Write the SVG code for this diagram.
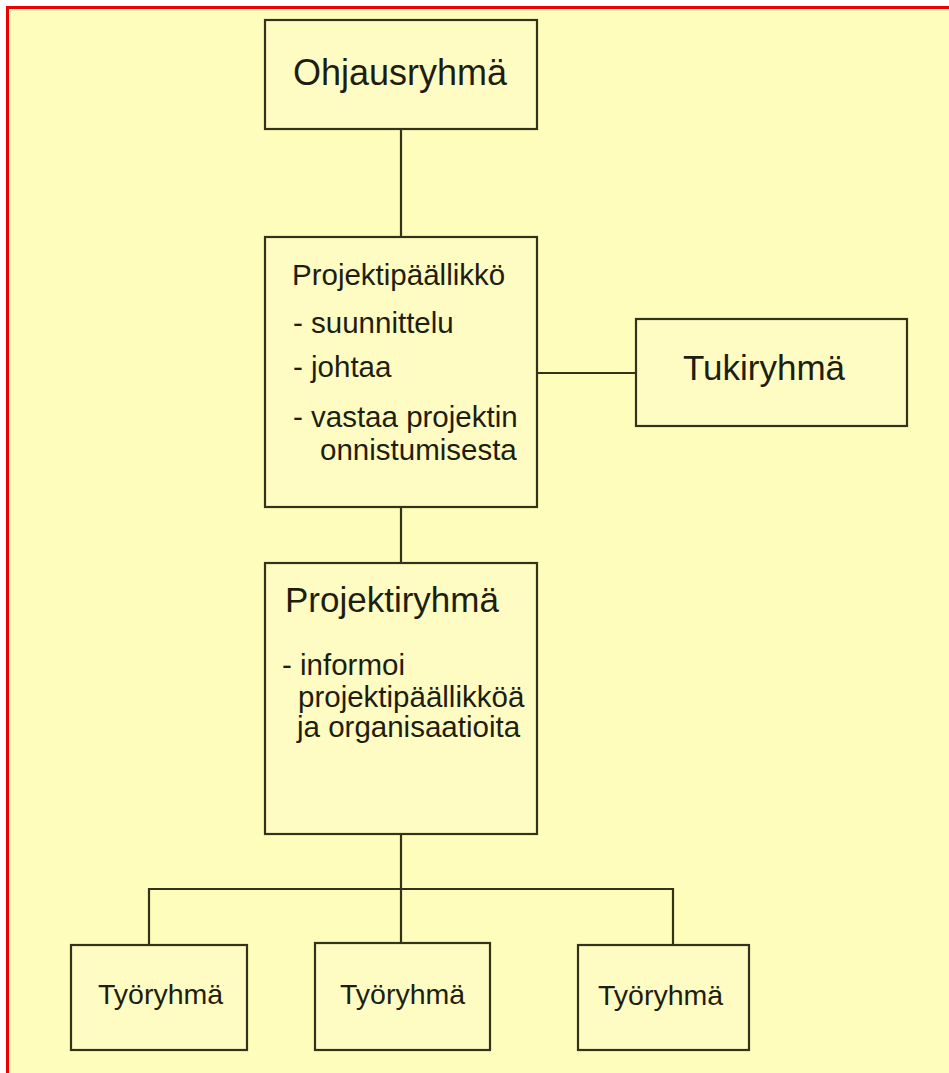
<svg xmlns="http://www.w3.org/2000/svg" width="949" height="1073" viewBox="0 0 949 1073">
<style>
.box{fill:#FEFCC2;stroke:#33331a;stroke-width:2.2}
.ln{fill:none;stroke:#33331a;stroke-width:2.2}
text{font-family:"Liberation Sans",Arial,sans-serif;fill:#1e1e10}
.big{font-size:36px}
.mid{font-size:35px}
.sm{font-size:29.5px}
.ty{font-size:28.5px}
</style>
<rect x="0" y="0" width="949" height="1073" fill="#FFFFFF"/>
<rect x="8" y="8" width="941" height="1065" fill="#FFFDBB"/>
<g id="border">
<rect x="6" y="6" width="943" height="3" fill="#EE0000"/>
<rect x="6" y="6" width="3" height="1067" fill="#EE0000"/>
</g>
<g id="connectors">
<line class="ln" x1="401" y1="129" x2="401" y2="237"/>
<line class="ln" x1="401" y1="507" x2="401" y2="563"/>
<line class="ln" x1="537" y1="373" x2="636" y2="373"/>
<line class="ln" x1="401" y1="834" x2="401" y2="943"/>
<polyline class="ln" points="149,945 149,889 673,889 673,945"/>
</g>
<g id="ohjausryhma">
<rect class="box" x="265" y="20" width="272" height="109"/>
<text class="big" x="293" y="85">Ohjausryhmä</text>
</g>
<g id="projektipaallikko">
<rect class="box" x="265" y="237" width="272" height="270"/>
<text class="sm" x="292" y="285">Projektipäällikkö</text>
<text class="sm" x="293" y="333">- suunnittelu</text>
<text class="sm" x="293" y="377">- johtaa</text>
<text class="sm" x="293" y="427">- vastaa projektin</text>
<text class="sm" x="320" y="460">onnistumisesta</text>
</g>
<g id="tukiryhma">
<rect class="box" x="636" y="319" width="271" height="107"/>
<text class="mid" x="683" y="380">Tukiryhmä</text>
</g>
<g id="projektiryhma">
<rect class="box" x="265" y="563" width="272" height="271"/>
<text class="mid" x="285" y="612">Projektiryhmä</text>
<text class="sm" x="282" y="675">- informoi</text>
<text class="sm" x="298" y="707">projektipäällikköä</text>
<text class="sm" x="297" y="737">ja organisaatioita</text>
</g>
<g id="tyoryhma1">
<rect class="box" x="71" y="945" width="176" height="105"/>
<text class="ty" x="98" y="1004">Työryhmä</text>
</g>
<g id="tyoryhma2">
<rect class="box" x="315" y="943" width="175" height="107"/>
<text class="ty" x="340" y="1004">Työryhmä</text>
</g>
<g id="tyoryhma3">
<rect class="box" x="578" y="945" width="171" height="105"/>
<text class="ty" x="598" y="1005">Työryhmä</text>
</g>
</svg>
